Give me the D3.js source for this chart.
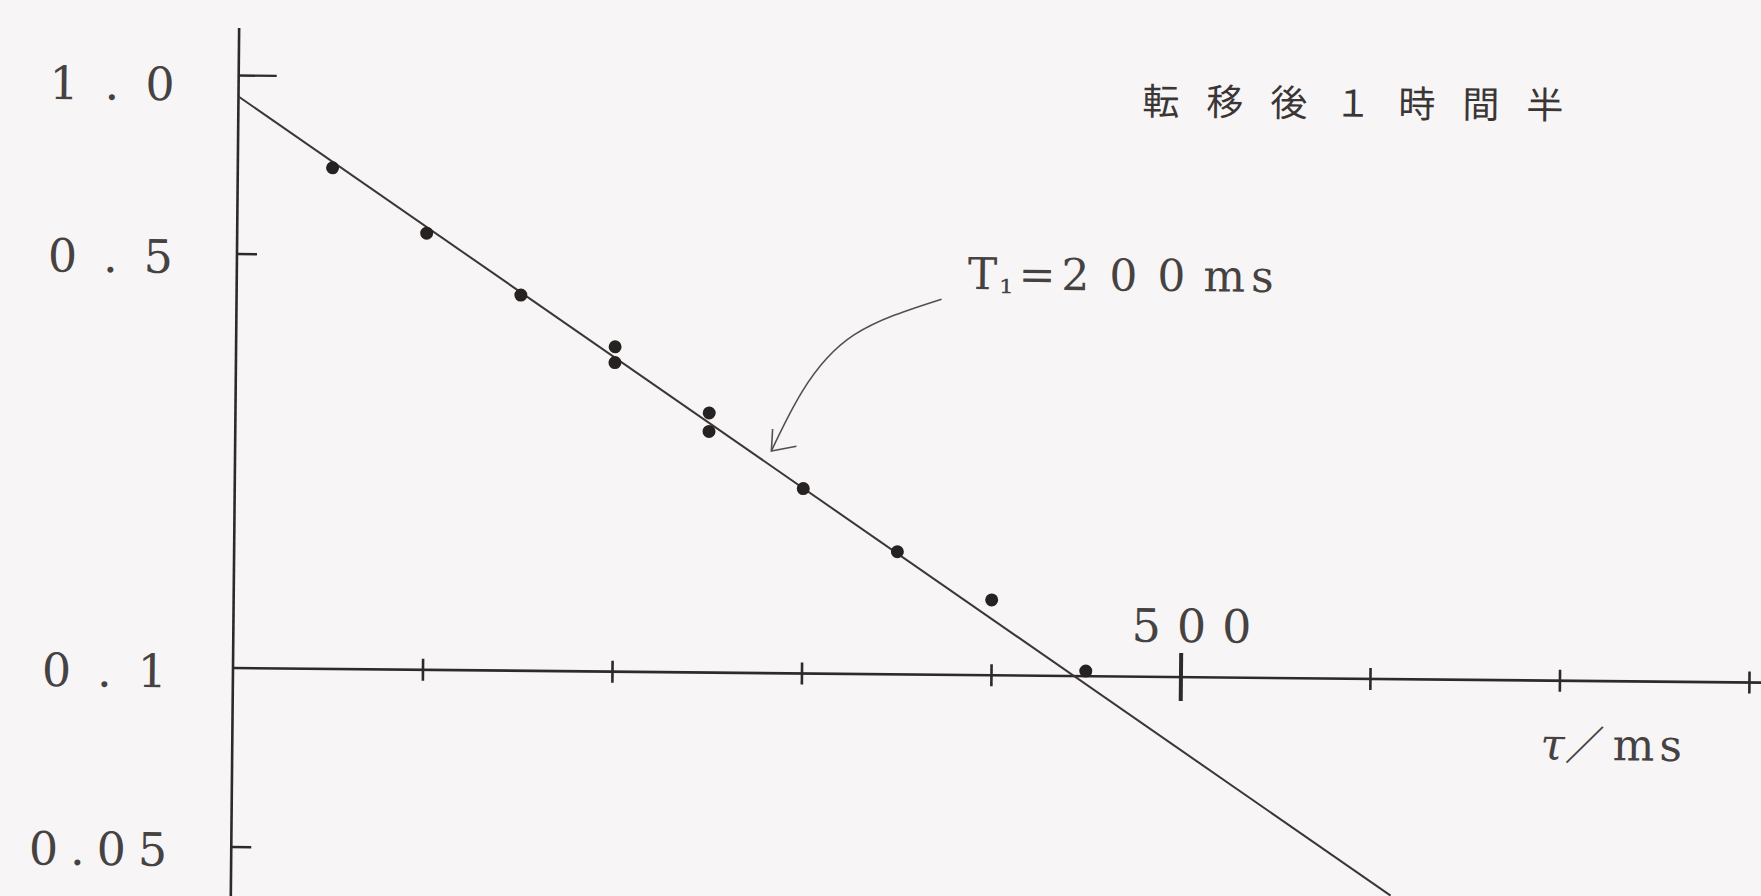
<!DOCTYPE html>
<html>
<head>
<meta charset="utf-8">
<script src="https://cdn.jsdelivr.net/npm/d3@7"></script>
<style>
  html, body { margin: 0; padding: 0; background: #f7f5f5; }
  svg { display: block; }
</style>
</head>
<body>
<svg id="chart" width="1761" height="896"></svg>
<script>
// Spin-lattice relaxation: signal vs. delay τ on a log scale
const delays = [50, 100, 150, 200, 200, 250, 250, 300, 350, 400, 450];        // τ / ms
const signal = [0.70, 0.545, 0.43, 0.353, 0.332, 0.274, 0.255, 0.205, 0.161, 0.134, 0.102];

const yTickValues = [1.0, 0.5, 0.1, 0.05];
const yTickLabels = ["1.0", "0.5", "0.1", "0.05"];
const xTickValues = [100, 200, 300, 400, 500, 600, 700, 800];
const xTickLabels = ["", "", "", "", "500", "", "", ""];

// fitted exponential  S(τ) = A·exp(-τ/T1)
const T1 = 200;            // ms
const amplitude = 0.92;
const fitRange = [0, 612]; // ms

// annotation arrow pointing at the fitted line (τ, S)
const arrowTau = [372, 326, 299, 283];
const arrowSignal = [0.430, 0.373, 0.299, 0.237];

const titleText = "転移後１時間半";
const fitLabel = ["T", "₁", "=", "200", "ms"];
const xAxisUnit = ["τ", "／", "ms"];

const ink = "#2e2a2a";
const textInk = "#464242";

const svg = d3.select("#chart");
const x = d3.scaleLinear().domain([0, 800]).range([233, 1749]);
const y = d3.scaleLog().domain([0.1, 1]).range([668, 75]);

// the whole sheet sits very slightly turned
const g = svg.append("g").attr("transform", `rotate(0.55, ${x(0)}, ${y(0.1)})`);

// ---- y axis (ticks point inward, labels on the left)
g.append("line")
  .attr("x1", x(0)).attr("x2", x(0))
  .attr("y1", y(1.2)).attr("y2", y(0.038))
  .attr("stroke", ink).attr("stroke-width", 2.6);

const yAxis = d3.axisLeft(y)
  .tickValues(yTickValues)
  .tickFormat((d, i) => yTickLabels[i])
  .tickSizeInner(-20).tickSizeOuter(0).tickPadding(62);

const yg = g.append("g").attr("transform", `translate(${x(0)},0)`).call(yAxis);
yg.select(".domain").remove();
yg.attr("font-family", "'DejaVu Serif', serif").attr("font-size", 46);
yg.selectAll(".tick line")
  .attr("x2", d => d === 1 ? 38 : (d === 0.1 ? 0 : 20))
  .attr("stroke", ink).attr("stroke-width", 2.4);
yg.selectAll(".tick text")
  .attr("fill", textInk)
  .attr("dy", d => d === 1 ? "0.55em" : "0.42em")
  .style("letter-spacing", d => d === 0.05 ? "12px" : "26px")
  .attr("dx", d => d === 0.05 ? 10 : (d === 0.1 ? 22 : 24));

// ---- x axis drawn along S = 0.1
g.append("line")
  .attr("x1", x(0)).attr("x2", x(825))
  .attr("y1", y(0.1)).attr("y2", y(0.1))
  .attr("stroke", ink).attr("stroke-width", 2.6);

const xAxis = d3.axisTop(x)
  .tickValues(xTickValues)
  .tickFormat((d, i) => xTickLabels[i])
  .tickSizeInner(0).tickSizeOuter(0).tickPadding(35);

const xg = g.append("g").attr("transform", `translate(0,${y(0.1)})`).call(xAxis);
xg.select(".domain").remove();
xg.attr("font-family", "'DejaVu Serif', serif").attr("font-size", 46);
xg.selectAll(".tick line")
  .attr("y1", d => d === 500 ? -24 : -11)
  .attr("y2", d => d === 500 ? 24 : 11)
  .attr("stroke", ink)
  .attr("stroke-width", d => d === 500 ? 4 : 2.6);
xg.selectAll(".tick text")
  .attr("fill", textInk)
  .style("letter-spacing", "16px")
  .attr("dx", 18);

// axis unit
g.append("text")
  .attr("x", x(800) - 208).attr("y", y(0.1) + 79)
  .attr("font-family", "'DejaVu Serif', serif")
  .attr("font-size", 44)
  .attr("fill", textInk)
  .call(t => {
    t.append("tspan").attr("font-style", "italic").text(xAxisUnit[0]);
    t.append("tspan").attr("font-family", "'Noto Sans CJK JP', sans-serif")
      .attr("font-size", 40).attr("dx", 0).text(xAxisUnit[1]);
    t.append("tspan").attr("dx", 8).attr("dx", "8 5").text(xAxisUnit[2]);
  });

// ---- fitted line
const fitPts = fitRange.map(t => [t, amplitude * Math.exp(-t / T1)]);
g.append("path")
  .datum(fitPts)
  .attr("d", d3.line().x(d => x(d[0])).y(d => y(d[1])))
  .attr("fill", "none").attr("stroke", "#3d3535").attr("stroke-width", 2);

// ---- measured points
g.append("g").selectAll("circle")
  .data(delays.map((t, i) => [t, signal[i]]))
  .join("circle")
  .attr("cx", d => x(d[0])).attr("cy", d => y(d[1]))
  .attr("r", 6.5)
  .attr("fill", "#262222");

// ---- annotation arrow and label
const arrowPts = arrowTau.map((t, i) => [x(t), y(arrowSignal[i])]);
g.append("path")
  .datum(arrowPts)
  .attr("d", d3.line().curve(d3.curveNatural))
  .attr("fill", "none").attr("stroke", "#555050").attr("stroke-width", 1.6);
const tip = arrowPts[arrowPts.length - 1];
g.append("path")
  .attr("d", `M${tip[0] + 1},${tip[1] - 22} L${tip[0]},${tip[1]} L${tip[0] + 25},${tip[1] - 5}`)
  .attr("fill", "none").attr("stroke", "#555050").attr("stroke-width", 1.6);

g.append("text")
  .attr("x", 964).attr("y", 282)
  .attr("font-family", "'DejaVu Serif', serif")
  .attr("font-size", 44)
  .attr("fill", textInk)
  .call(t => {
    t.append("tspan").text(fitLabel[0]);
    t.append("tspan").attr("font-size", 36).attr("dx", 2).attr("dy", 4).text(fitLabel[1]);
    t.append("tspan").attr("dx", 5).attr("dy", -4).text(fitLabel[2]);
    t.append("tspan").attr("dx", "6 20 20").text(fitLabel[3]);
    t.append("tspan").attr("dx", "18 6").text(fitLabel[4]);
  });

// ---- title
g.append("text")
  .attr("x", 1137).attr("y", 106)
  .attr("font-family", "'Noto Sans CJK JP', sans-serif")
  .attr("font-size", 37)
  .attr("fill", "#3a3636")
  .style("letter-spacing", "27px")
  .text(titleText);
</script>
</body>
</html>
